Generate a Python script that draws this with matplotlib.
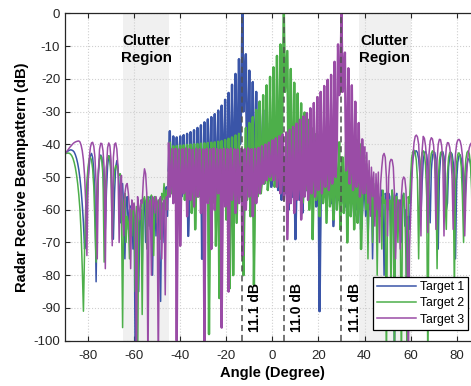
import numpy as np
import matplotlib
matplotlib.use("Agg")
import matplotlib.pyplot as plt

plt.rcParams['font.family'] = ['Liberation Sans', 'DejaVu Sans']
plt.rcParams['axes.unicode_minus'] = False

# ---------------- data (dB values, 0.5 deg sampling) ----------------
angle_start, angle_stop, angle_step = -90.0, 90.0, 0.5

t1_outer_left = [
    -43, -42.6, -42.2, -42, -41.8, -41.7, -41.8, -42, -42.4, -43.2,
    -44.3, -45.8, -47.8, -50.5, -54, -58.5, -64, -72, -70, -58,
    -51, -46.5, -43.5, -42.8, -44, -48, -56, -82, -58, -49,
    -44.5, -43.3, -44, -48, -57, -66, -54, -46.5, -43.5, -44,
    -48, -58, -69, -55, -47, -45, -47, -53, -64, -55]
t1_clutter_left = [
    -52, -60, -75, -58, -56, -66, -60, -59, -58.5, -72,
    -60, -110, -62, -60, -85, -62, -60, -78, -58, -57,
    -70, -57, -56.5, -65, -56, -57, -80, -57, -56, -68,
    -58, -57.5, -75, -88, -60, -58, -70, -55, -53, -62]
t1_main = [
    -48, -36, -50,  -50, -37.6, -53,  -52, -37.9, -49,  -49, -37.6, -56,
    -53, -37.2, -52,  -50, -36.8, -68,  -52, -36.3, -51,  -49, -35.7, -55,
    -51, -35, -49,  -53, -34.2, -75,  -50, -33.3, -52,  -52, -32.4, -50,
    -48, -31.7, -57,  -51, -30.8, -51,  -49, -29.7, -54,  -52, -28.2, -48,
    -47, -26.4, -56,  -50, -24.3, -50,  -46, -21.8, -53,  -44, -18.5, -47,
    -40, -14, -40,  -28, 0, -30,  -22, -12.5, -45,  -38, -17.5, -50,
    -42, -21, -48,  -46, -24, -54,  -48, -27, -50,  -50, -29.5, -52,
    -49, -31.7, -50,  -51, -33.5, -53,  -50, -35.1, -51,  -52, -36.4, -54,
    -53, -37.4, -57,  -52, -44, -52,  -55, -39, -60,  -54, -40.5, -56,
    -56, -41.8, -69,  -53, -42.5, -55,  -57, -43.2, -61,  -55, -44, -54,
    -54, -44.3, -57,  -56, -44.8, -55,  -55, -45.2, -59,  -57, -45.5, -91,
    -54, -46, -56,  -56, -46.2, -58,  -55, -46.5, -55,  -58, -47, -65,
    -56, -47.3, -56,  -57, -47.8, -60,  -56, -48, -58,  -59, -48.3, -63,
    -57, -49, -58,  -58, -49.5, -62,  -60, -50.5, -60,  -59, -52, -66,
    -60, -53]
t1_clutter_right = [
    -55, -62, -54, -70, -56, -60, -53, -75, -55, -58,
    -54, -66, -56, -57, -62, -54, -58, -80, -55, -56,
    -60, -55, -56, -72, -54, -57, -110, -56, -55, -62,
    -58, -57, -70, -56, -55, -65, -60, -110, -62, -66]
t1_outer_right = [
    -55, -48, -44.5, -42.8, -42.1, -42, -42.6, -44.5, -49, -62,
    -52, -45, -42.5, -42.2, -43.2, -46.5, -55, -64, -48, -43.5,
    -42.3, -42.5, -44.5, -50, -72, -50, -44, -42.4, -42.3, -43.8,
    -48, -60, -58, -47, -43.5, -42.5, -43, -45.5, -52, -75,
    -51, -45.5, -43.5, -43.2, -44.5, -48, -58, -62, -50, -46,
    -44.5, -44.5, -46, -50, -62, -58, -49, -45.5, -44.5, -44.5,
    -45]

t2_outer_left = [
    -43, -42.8, -42.7, -42.7, -42.8, -43.1, -43.6, -44.4, -45.6, -47.2,
    -49.3, -52, -55.5, -60, -67, -78, -91, -72, -59, -51.5,
    -47, -44.5, -44, -44.8, -47.5, -53, -65, -76, -56, -48,
    -44.5, -43.6, -45, -50, -76, -54, -47, -44, -43.5, -45,
    -50, -69, -53, -48, -46.5, -47, -48.5, -49.5, -49, -60]
t2_clutter_left = [
    -96, -58, -55, -70, -62, -64, -75, -60, -68, -58,
    -62, -85, -59, -110, -64, -60, -58, -92, -57, -56,
    -58, -72, -56, -60, -66, -55.5, -58, -74, -56, -57,
    -64, -57, -58, -69, -55, -57, -52, -60, -54, -56]
t2_main = [
    -52, -39.5, -55,  -50, -40.6, -52,  -53, -40.5, -60,  -51, -40.4, -54,
    -54, -40.3, -57,  -50, -40.2, -53,  -52, -40.1, -61,  -55, -40, -66,
    -51, -39.9, -56,  -53, -39.8, -59,  -50, -39.7, -55,  -52, -39.6, -98,
    -54, -39.5, -58,  -51, -39.4, -71,  -53, -39.2, -87,  -50, -39, -57,
    -52, -38.7, -63,  -55, -38.3, -84,  -51, -37.9, -80,  -53, -37.3, -64,
    -50, -36.8, -56,  -54, -42, -80,  -51, -35, -57,  -53, -33.5, -62,
    -50, -31.7, -83,  -52, -29.5, -56,  -49, -27, -55,  -51, -25, -52,
    -48, -22, -54,  -50, -19.4, -51,  -47, -16.5, -53,  -48, -13, -50,
    -40, -9.5, -48,  -22, 0, -24,  -18, -11.5, -50,  -42, -17, -52,
    -48, -21.2, -55,  -50, -24.5, -53,  -48, -27.5, -58,  -51, -30.3, -54,
    -49, -32.5, -60,  -52, -35, -69,  -50, -36.9, -57,  -53, -37.8, -62,
    -51, -38.3, -58,  -54, -38.7, -64,  -52, -38.9, -59,  -55, -39.1, -63,
    -53, -39.25, -60,  -54, -39.4, -66,  -52, -44, -61,  -55, -39.3, -70,
    -53, -39, -62,  -56, -38.5, -66,  -54, -38.6, -64,  -56, -40, -72,
    -58, -42]
t2_clutter_right = [
    -44, -60, -46, -75, -48, -58, -50, -70, -52, -62,
    -53, -80, -55, -60, -56, -72, -54, -58, -57, -110,
    -55, -60, -57, -85, -54, -58, -110, -56, -56, -70,
    -57, -62, -110, -58, -55, -60, -75, -110, -56, -58]
t2_outer_right = [
    -50, -44, -42.2, -41.8, -42.5, -45, -51, -75, -52, -45,
    -42.5, -42, -43, -46.5, -56, -110, -53, -45.5, -42.8, -42,
    -42.6, -45, -51, -78, -51, -45, -42.6, -42.2, -43.3, -47,
    -57, -66, -49, -44, -42.5, -42.5, -44.5, -50, -85, -52,
    -45.5, -43, -42.6, -43.6, -47, -56, -70, -50, -44.5, -42.5,
    -42, -43, -46, -54, -80, -52, -45, -42.8, -42.3, -43,
    -45]

t3_outer_left = [
    -43, -42.5, -42, -41.5, -41, -40.6, -40.2, -39.8, -39.5, -39.3,
    -39.15, -39.05, -39, -39.3, -40.3, -42, -44.8, -49.5, -58, -74,
    -52, -44.5, -41, -39.6, -39.4, -40.6, -44, -52, -75, -48,
    -41.5, -39.7, -39.8, -42, -47.5, -78, -47, -41, -39.6, -40.5,
    -45, -71, -44, -40, -39.6, -41.5, -47, -70, -53, -49.5]
t3_clutter_left = [
    -62, -68, -55, -52.5, -52, -55, -60, -78, -57, -60,
    -58, -62, -110, -56, -59, -63, -57, -58, -51, -47.5,
    -49, -55, -110, -58, -57, -80, -56, -57, -61, -56,
    -58, -110, -57, -56, -75, -58, -57, -86, -56, -60]
t3_main = [
    -39.8, -56, -51,  -41.5, -58, -53,  -41.4, -100, -50,  -41.6, -71, -52,
    -41.5, -55, -54,  -41.3, -62, -51,  -41.5, -57, -53,  -41.7, -59, -50,
    -41.4, -56, -52,  -41.5, -61, -54,  -41.6, -100, -51,  -41.4, -58, -53,
    -41.5, -72, -50,  -41.3, -60, -52,  -41.5, -55, -54,  -41.6, -96, -51,
    -41.4, -59, -53,  -41.5, -85, -50,  -41.3, -57, -52,  -41.5, -61, -54,
    -41.6, -58, -51,  -41.4, -74, -53,  -41.5, -60, -50,  -41.3, -56, -52,
    -41.5, -62, -54,  -41.4, -58, -51,  -41.1, -55, -52,  -40.6, -52, -50,
    -40.1, -51, -49,  -39.5, -50, -48,  -38.8, -51, -48,  -38.2, -53, -49,
    -37.6, -55, -50,  -37, -57, -52,  -36.4, -69, -53,  -35.6, -58, -52,
    -34.7, -61, -54,  -33.7, -57, -52,  -32.5, -63, -53,  -31.5, -56, -51,
    -30.5, -57, -52,  -29, -55, -50,  -27.4, -56, -51,  -25.6, -54, -49,
    -24, -55, -50,  -22.2, -53, -48,  -20.3, -54, -49,  -18.8, -52, -47,
    -14.8, -50, -40,  -9.5, -25, -22,  0, -24, -20,  -12, -48, -44,
    -16.8, -52, -48,  -22, -54, -50,  -27, -53, -51,  -33.5, -56, -52,
    -38.5, -55]
t3_clutter_right = [
    -41, -55, -42.5, -58, -45, -62, -47, -56, -48.5, -65,
    -49, -60, -48.5, -70, -52, -47, -43.5, -42.8, -44, -50,
    -68, -50, -45.5, -44.6, -44.8, -47, -55, -75, -60, -57,
    -58, -72, -56, -51, -50, -50.5, -54, -65, -110, -72]
t3_outer_right = [
    -62, -52, -44, -39.5, -37.6, -37.2, -37.8, -40, -47, -68,
    -42, -37.6, -38.2, -40.5, -45, -67, -43, -39, -38, -38.4,
    -40.5, -45.5, -66, -45, -40, -38.5, -38.6, -40.5, -45, -68,
    -46, -41, -39.5, -39.6, -41, -44, -50, -66, -50, -43,
    -39.8, -38.7, -38.5, -39, -40.5, -43.5, -49, -68, -55, -47,
    -43, -41, -40, -39.5, -39.5, -40, -41, -42, -42.5, -43,
    -43]

series_names = ["Target 1", "Target 2", "Target 3"]
series_colors = ["#3a55a8", "#4daf4a", "#9a4ca6"]
target_angles = [-13, 5, 30]
target_labels = ["11.1 dB", "11.0 dB", "11.1 dB"]
target_label_x = [-7.4, 10.7, 35.7]
clutter_regions = [(-65, -45), (37.5, 60)]
clutter_text_x = [-54.8, 48.7]
x_ticks = [-80, -60, -40, -20, 0, 20, 40, 60, 80]
y_ticks = [0, -10, -20, -30, -40, -50, -60, -70, -80, -90, -100]

parts1 = [t1_outer_left, t1_clutter_left, t1_main, t1_clutter_right, t1_outer_right]
parts2 = [t2_outer_left, t2_clutter_left, t2_main, t2_clutter_right, t2_outer_right]
parts3 = [t3_outer_left, t3_clutter_left, t3_main, t3_clutter_right, t3_outer_right]
t1 = sum(parts1, [])
t2 = sum(parts2, [])
t3 = sum(parts3, [])
angles = np.arange(angle_start, angle_stop + angle_step / 2, angle_step)
for s in (t1, t2, t3):
    assert len(s) == len(angles), (len(s), len(angles))
main_lo = len(t1_outer_left) + len(t1_clutter_left)
main_hi = main_lo + len(t1_main)

# ---------------- figure ----------------
fig = plt.figure(figsize=(4.71, 3.86), dpi=100)
ax = fig.add_axes([65 / 471, 45.3 / 386, 414.7 / 471, 327.4 / 386])

for lo, hi in clutter_regions:
    ax.axvspan(lo, hi, color="#f0f0f0", zorder=0, lw=0)

for vals, name, col in zip((t1, t2, t3), series_names, series_colors):
    vals = np.asarray(vals, dtype=float)
    ax.plot(angles, vals, color=col, lw=1.1, label=name, zorder=2)
    # dense side-lobe region drawn a little heavier, as in the original raster
    ax.plot(angles[main_lo:main_hi + 1], vals[main_lo:main_hi + 1], color=col,
            lw=1.7, zorder=2)

for ang in target_angles:
    ax.axvline(ang, color="#505050", lw=1.1, ls=(0, (4, 2.5)), zorder=4)

for tx, lab in zip(target_label_x, target_labels):
    ax.text(tx, -90, lab, rotation=90, ha="center", va="center",
            fontsize=10, fontweight="bold", color="black", zorder=5)

for cx in clutter_text_x:
    ax.text(cx, -11, "Clutter\nRegion", ha="center", va="center",
            fontsize=10.8, fontweight="bold", linespacing=1.25, zorder=5)

ax.set_xlim(-90, 90)
ax.set_ylim(-100, 0)
ax.set_xticks(x_ticks)
ax.set_yticks(y_ticks)
ax.grid(True, ls=":", color="#cfcfcf", lw=0.8)
ax.set_axisbelow(True)
ax.tick_params(direction="in", top=True, right=True, length=3.5, width=0.8,
               labelsize=9.5, colors="#262626")
ax.tick_params(axis="x", pad=6.5)
for sp in ax.spines.values():
    sp.set_color("#262626")
    sp.set_linewidth(0.9)

ax.set_xlabel("Angle (Degree)", fontsize=10.6, fontweight="bold", labelpad=3)
ax.set_ylabel("Radar Receive Beampattern (dB)", fontsize=10.6, fontweight="bold", labelpad=3)

leg = ax.legend(loc="lower right", bbox_to_anchor=(0.9725, 0.0327), borderaxespad=0,
                fontsize=8.8, handlelength=3.2, handletextpad=0.3, borderpad=0.35,
                labelspacing=0.35, fancybox=False, framealpha=1, edgecolor="black")
leg.get_frame().set_linewidth(0.9)
leg.set_zorder(10)

fig.savefig("out.png", dpi=100)
